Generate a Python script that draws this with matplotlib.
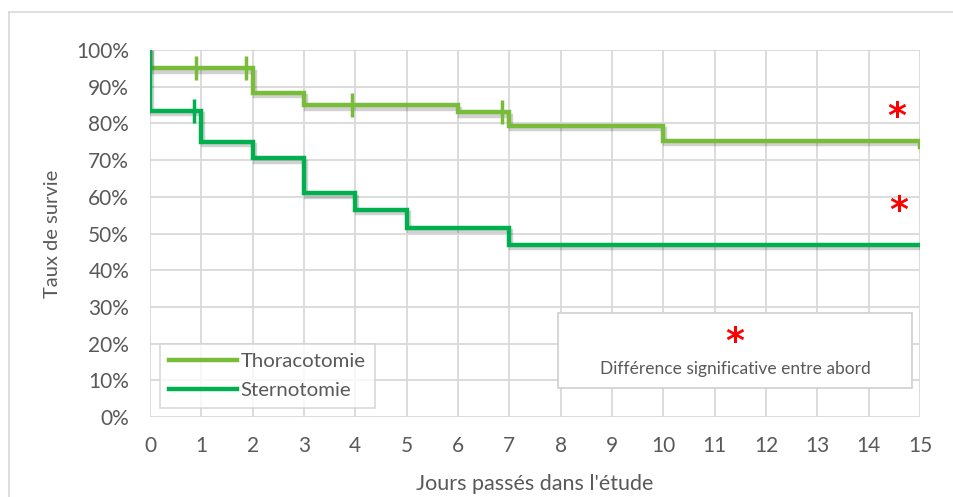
import matplotlib.pyplot as plt
import matplotlib.patheffects as pe
from matplotlib.lines import Line2D
from matplotlib.patches import Rectangle
from matplotlib.ticker import PercentFormatter

# Survival curves (step functions, post-style)
thora_days = [0, 0, 2, 3, 6, 7, 10, 15, 15]
thora_surv = [100, 95, 88.3, 85, 83, 79.3, 75.3, 75.3, 73.5]
sterno_days = [0, 0, 1, 2, 3, 4, 5, 7, 15]
sterno_surv = [100, 83.4, 75, 70.5, 61, 56.4, 51.5, 47, 47]

# Censored observations
thora_cens_days = [0.9, 1.87, 3.93, 6.85]
thora_cens_surv = [95, 95, 85, 83]
sterno_cens_days = [0.85]
sterno_cens_surv = [83.4]

# Significance markers
star_days = [14.55, 14.58]
star_surv = [81.8, 56.0]

c_thora = '#78BC3A'
c_sterno = '#00B04F'
c_text = '#595959'
c_grid = '#D9D9D9'

plt.rcParams['font.family'] = ['Lato', 'DejaVu Sans']

fig = plt.figure(figsize=(9.54, 4.97), dpi=100)
# chart area border (top and left edges)
fig.lines.append(Line2D([9 / 954, 1], [1 - 12 / 497, 1 - 12 / 497], transform=fig.transFigure,
                        color='#D9D9D9', lw=1.2))
fig.lines.append(Line2D([9 / 954, 9 / 954], [0, 1 - 12 / 497], transform=fig.transFigure,
                        color='#D9D9D9', lw=1.2))
ax = fig.add_axes([150 / 954, 80 / 497, 770 / 954, 367 / 497])

shadow = [pe.SimpleLineShadow(offset=(1.5, -2.5), shadow_color='#000000', alpha=0.18),
          pe.Normal()]

ax.step(thora_days, thora_surv, where='post', color=c_thora, lw=3.2,
        label='Thoracotomie', path_effects=shadow, zorder=4, solid_joinstyle='miter')
ax.step(sterno_days, sterno_surv, where='post', color=c_sterno, lw=3.2,
        label='Sternotomie', path_effects=shadow, zorder=5, solid_joinstyle='miter')

ax.plot(thora_cens_days, thora_cens_surv, linestyle='none', marker='|', ms=17,
        mew=2.5, color=c_thora, zorder=4)
ax.plot(sterno_cens_days, sterno_cens_surv, linestyle='none', marker='|', ms=17,
        mew=2.5, color=c_sterno, zorder=5)

for d, s in zip(star_days, star_surv):
    ax.text(d, s, '*', color='#FF0000', fontsize=26, fontweight='bold',
            ha='center', va='center', family='DejaVu Sans', zorder=6)

ax.set_xlim(0, 15)
ax.set_ylim(0, 100)
ax.set_xticks(range(0, 16))
ax.set_yticks(range(0, 101, 10))
ax.yaxis.set_major_formatter(PercentFormatter(decimals=0))
ax.grid(True, color=c_grid, linewidth=1.3)
ax.set_axisbelow(True)
for sp in ax.spines.values():
    sp.set_visible(False)
ax.tick_params(length=0, labelsize=15, colors=c_text)
ax.tick_params(axis='x', pad=14)
ax.tick_params(axis='y', pad=15)

ax.set_xlabel("Jours passés dans l'étude", fontsize=15.5, color=c_text, labelpad=13)
ax.set_ylabel('Taux de survie', fontsize=14.5, color=c_text, labelpad=11)

leg = ax.legend(loc='lower left', bbox_to_anchor=(10 / 770, 9 / 367), fontsize=14.7,
                frameon=True, fancybox=False, handlelength=3.3, handletextpad=0.2,
                borderpad=0.45, labelspacing=0.55, labelcolor=c_text, borderaxespad=0)
leg.get_frame().set_edgecolor('#D0D0D0')
leg.get_frame().set_linewidth(1.2)
for h in leg.get_lines():
    h.set_path_effects([])
    h.set_linewidth(3.2)

# Note box for the significance marker
box = Rectangle((408 / 770, 29 / 367), 354 / 770, 75 / 367, transform=ax.transAxes,
                facecolor='white', edgecolor='#D0D0D0', linewidth=1.2, zorder=7)
ax.add_patch(box)
ax.text(585 / 770, 75 / 367, '*', transform=ax.transAxes, color='#FF0000', fontsize=26,
        fontweight='bold', ha='center', va='center', family='DejaVu Sans', zorder=8)
ax.text(585 / 770, 48 / 367, 'Différence significative entre abord', transform=ax.transAxes,
        color=c_text, fontsize=12.5, ha='center', va='center', zorder=8)

fig.savefig('out.png', dpi=100)
